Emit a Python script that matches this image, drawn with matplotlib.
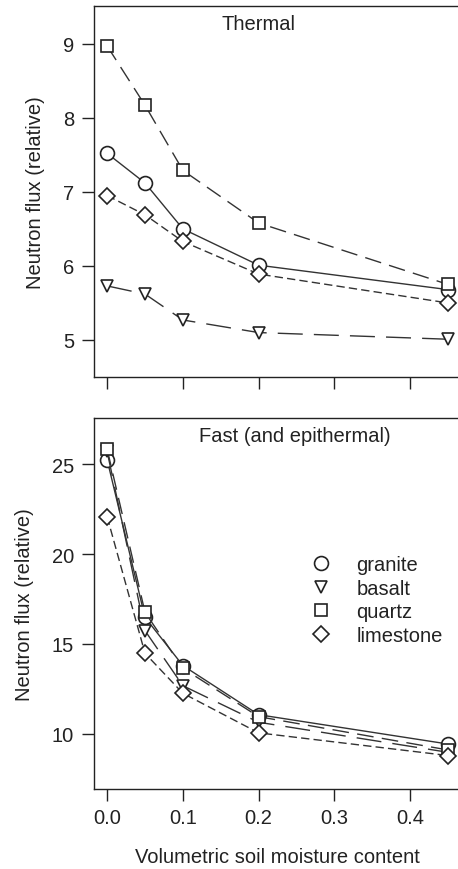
import matplotlib
matplotlib.use("Agg")
import matplotlib.pyplot as plt
from matplotlib.lines import Line2D

plt.rcParams["font.family"] = ["Liberation Sans", "DejaVu Sans"]

# soil moisture (x) and neutron flux values
moisture = [0.0, 0.05, 0.1, 0.2, 0.45]

thermal_granite = [7.52, 7.12, 6.50, 6.01, 5.68]
thermal_basalt = [5.73, 5.62, 5.27, 5.10, 5.01]
thermal_quartz = [8.97, 8.17, 7.29, 6.58, 5.75]
thermal_limestone = [6.95, 6.69, 6.33, 5.89, 5.50]

fast_granite = [25.24, 16.48, 13.80, 11.07, 9.44]
fast_basalt = [25.70, 15.74, 12.68, 10.65, 8.98]
fast_quartz = [25.83, 16.76, 13.65, 10.96, 9.11]
fast_limestone = [22.07, 14.48, 12.26, 10.06, 8.80]

rocks = ["granite", "basalt", "quartz", "limestone"]
markers = {"granite": "o", "basalt": "v", "quartz": "s", "limestone": "D"}
dashes = {"granite": None, "basalt": (18, 8), "quartz": (12, 6), "limestone": (6, 3)}
msizes = {"granite": 10, "basalt": 9, "quartz": 9, "limestone": 8}

INK = "#222222"
LINE = "#333333"
FS = 14.5

fig = plt.figure(figsize=(4.58, 8.70), dpi=100)
W, H = 458.0, 870.0
left = 93.5 / W
width = (461.6 - 93.5) / W
ax1 = fig.add_axes([left, 1 - 378 / H, width, (378 - 7) / H])
ax2 = fig.add_axes([left, 1 - 790 / H, width, (790 - 419) / H])


def draw(ax, series):
    for rock, vals in zip(rocks, series):
        kw = dict(color=LINE, lw=1.0, marker=markers[rock], ms=msizes[rock],
                  mfc="white", mec=INK, mew=1.2, label=rock)
        line, = ax.plot(moisture, vals, **kw)
        if dashes[rock] is not None:
            line.set_dashes(dashes[rock])
    ax.set_xlim(-0.018, 0.468)
    ax.set_xticks([0.0, 0.1, 0.2, 0.3, 0.4])
    for s in ax.spines.values():
        s.set_color(INK)
        s.set_linewidth(1.0)
    ax.tick_params(direction="out", length=8.5, width=1.0, color=INK,
                   labelsize=FS, labelcolor=INK, pad=5.5)
    ax.set_ylabel("Neutron flux (relative)", fontsize=FS, color=INK, labelpad=13)


draw(ax1, [thermal_granite, thermal_basalt, thermal_quartz, thermal_limestone])
ax1.set_ylim(4.5, 9.51)
ax1.set_yticks([5, 6, 7, 8, 9])
ax1.tick_params(axis="x", labelbottom=False)
ax1.text(0.2, 9.28, "Thermal", ha="center", va="center", fontsize=FS, color=INK)

draw(ax2, [fast_granite, fast_basalt, fast_quartz, fast_limestone])
ax2.set_ylim(6.94, 27.56)
ax2.set_yticks([10, 15, 20, 25])
ax2.set_xticklabels(["0.0", "0.1", "0.2", "0.3", "0.4"])
ax2.text(0.248, 26.56, "Fast (and epithermal)", ha="center", va="center", fontsize=FS, color=INK)
ax2.set_xlabel("Volumetric soil moisture content", fontsize=FS, color=INK, labelpad=14)

handles = [Line2D([], [], ls="none", marker=markers[r], ms=msizes[r], mfc="white",
                  mec=INK, mew=1.2) for r in rocks]
ax2.legend(handles, rocks, loc="upper left", bbox_to_anchor=(0.591, 0.63),
           frameon=False, fontsize=FS, handlelength=1.0, handletextpad=1.25,
           borderpad=0, borderaxespad=0, labelspacing=0.22, labelcolor=INK)

fig.savefig("out.png", dpi=100, facecolor="white")
